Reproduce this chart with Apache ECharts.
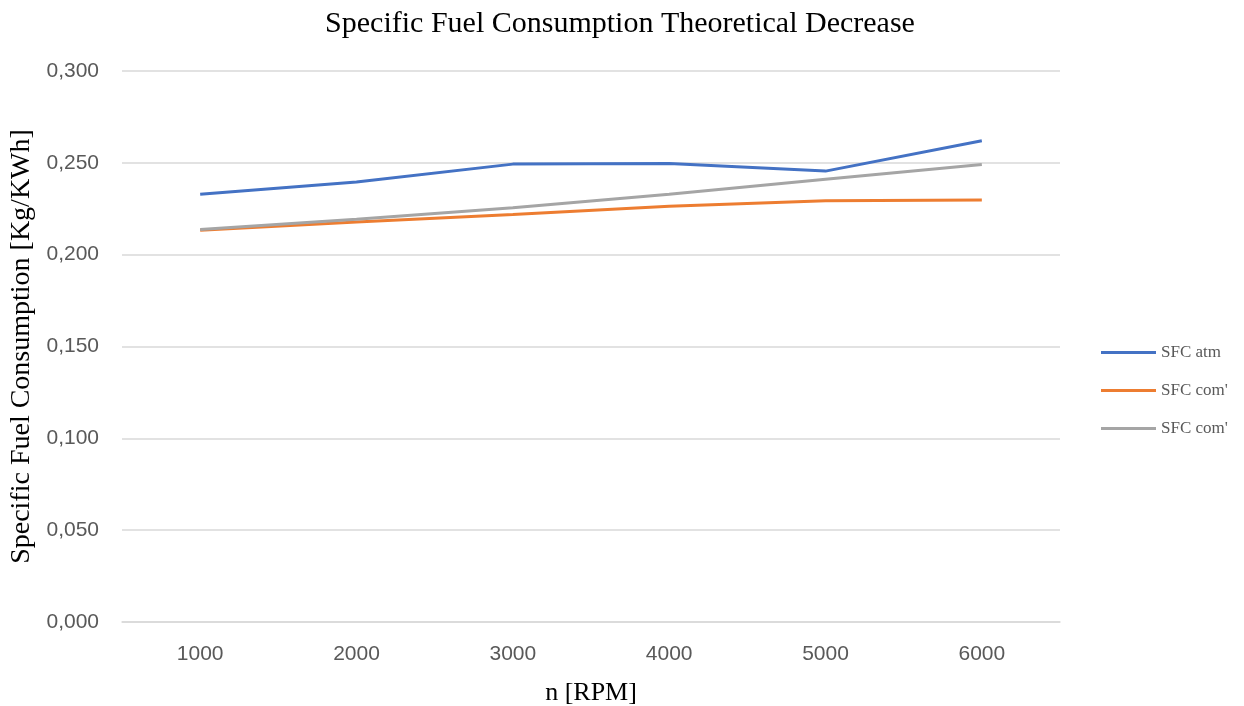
<!DOCTYPE html>
<html>
<head>
<meta charset="utf-8">
<script src="https://cdn.jsdelivr.net/npm/echarts@6/dist/echarts.min.js"></script>
<style>
  html, body { margin: 0; padding: 0; background: #fff; }
  #chart { width: 1244px; height: 706px; }
</style>
</head>
<body>
<div id="chart"></div>
<script>
  // data
  var rpm = ['1000', '2000', '3000', '4000', '5000', '6000'];
  var sfcAtm = [0.2329, 0.2396, 0.2493, 0.2497, 0.2455, 0.2620];
  var sfcCom1 = [0.2133, 0.2178, 0.2219, 0.2264, 0.2293, 0.2297];
  var sfcCom2 = [0.2137, 0.2193, 0.2255, 0.2329, 0.2411, 0.2491];

  var chart = echarts.init(document.getElementById('chart'));
  chart.setOption({
    backgroundColor: '#fff',
    animation: false,
    title: {
      text: 'Specific Fuel Consumption Theoretical Decrease',
      left: 615,
      textAlign: 'center',
      top: 4,
      textStyle: {
        fontFamily: 'Liberation Serif',
        fontWeight: 'normal',
        fontSize: 30,
        color: '#000'
      }
    },
    legend: {
      orient: 'vertical',
      left: 1096,
      top: 339,
      itemWidth: 55,
      itemHeight: 3,
      itemGap: 21,
      icon: 'rect',
      textStyle: {
        fontFamily: 'Liberation Serif',
        fontSize: 17,
        color: '#595959'
      }
    },
    grid: {
      left: 122,
      right: 184,
      top: 71,
      bottom: 84,
      outerBoundsMode: 'none'
    },
    xAxis: {
      type: 'category',
      data: rpm,
      boundaryGap: true,
      name: 'n [RPM]',
      nameLocation: 'middle',
      nameGap: 58,
      nameTextStyle: {
        fontFamily: 'Liberation Serif',
        fontSize: 26,
        color: '#000'
      },
      axisLine: { lineStyle: { color: '#d9d9d9', width: 1.5 } },
      axisTick: { show: false },
      axisLabel: {
        margin: 22,
        fontFamily: 'Liberation Sans',
        fontSize: 21,
        color: '#595959'
      }
    },
    yAxis: {
      type: 'value',
      min: 0,
      max: 0.3,
      interval: 0.05,
      name: 'Specific Fuel Consumption [Kg/KWh]',
      nameLocation: 'middle',
      nameGap: 79,
      nameTextStyle: {
        fontFamily: 'Liberation Serif',
        fontSize: 28,
        color: '#000'
      },
      axisLine: { show: false },
      axisTick: { show: false },
      axisLabel: {
        margin: 23,
        fontFamily: 'Liberation Sans',
        fontSize: 21,
        color: '#595959',
        formatter: function (v) { return v.toFixed(3).replace('.', ','); }
      },
      splitLine: { lineStyle: { color: '#d9d9d9', width: 1.5 } }
    },
    series: [
      {
        name: 'SFC atm',
        type: 'line',
        data: sfcAtm,
        symbol: 'none',
        lineStyle: { color: '#4472c4', width: 3 },
        itemStyle: { color: '#4472c4' }
      },
      {
        name: "SFC com'",
        type: 'line',
        data: sfcCom1,
        symbol: 'none',
        lineStyle: { color: '#ed7d31', width: 3 },
        itemStyle: { color: '#ed7d31' }
      },
      {
        name: "SFC com' ",
        type: 'line',
        data: sfcCom2,
        symbol: 'none',
        lineStyle: { color: '#a5a5a5', width: 3 },
        itemStyle: { color: '#a5a5a5' }
      }
    ]
  });
</script>
</body>
</html>
